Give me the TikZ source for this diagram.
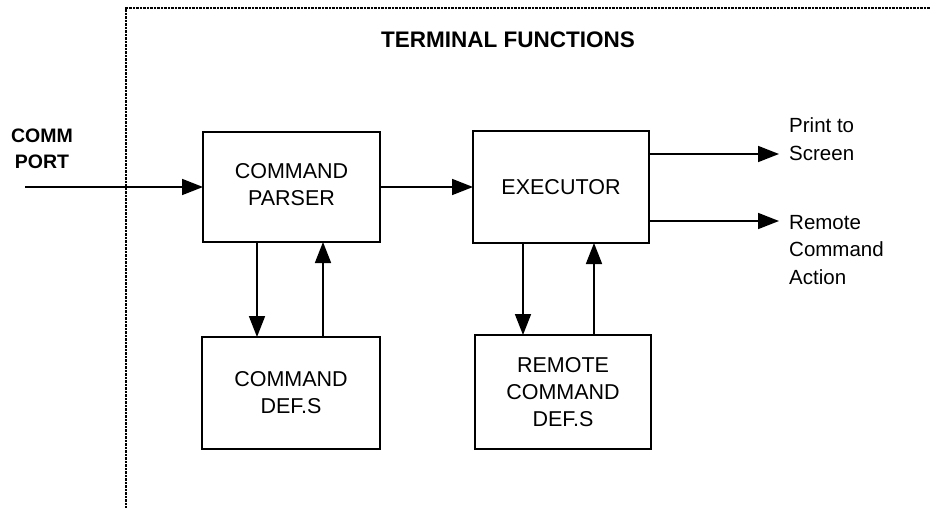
\documentclass[tikz,border=0pt]{standalone}
\usepackage{fontspec}
\setmainfont{Liberation Sans}
\usetikzlibrary{arrows.meta}
\begin{document}
\begin{tikzpicture}[x=1pt,y=-1pt,
  blk/.style={draw,line width=1.8pt,rectangle,inner sep=0pt,outer sep=0pt,align=center,
    font=\fontsize{21.5}{27}\selectfont},
  arr/.style={line width=1.7pt,-{Triangle[length=21pt,width=16pt]}},
  frame/.style={line width=1.2pt,dash pattern=on 1pt off 0.4pt},
  lbl/.style={inner sep=0pt,align=left,font=\fontsize{20.5}{27.5}\selectfont}]
\useasboundingbox (0,0) rectangle (930,508);
% frame
\coordinate (fb) at (126,508);
\coordinate (ftl) at (126,8);
\coordinate (ftr) at (930,8);
\draw[frame] (fb) -- (ftl) -- (ftr);
\node[font=\bfseries\fontsize{22.5}{26}\selectfont] (title) at (508,40) {TERMINAL FUNCTIONS};
% boxes
\node[blk,minimum width=177pt,minimum height=110pt] (parser) at (291.5,187)
  {\raisebox{4pt}{\begin{tabular}{@{}c@{}}COMMAND\\PARSER\end{tabular}}};
\node[blk,minimum width=176pt,minimum height=112pt] (exec) at (561,187) {EXECUTOR};
\node[blk,minimum width=178pt,minimum height=112pt] (defs) at (291,393) {COMMAND\\DEF.S};
\node[blk,minimum width=176pt,minimum height=114pt] (rdefs) at (563,392) {REMOTE\\COMMAND\\DEF.S};
% input
\node[font=\bfseries\fontsize{19.5}{26}\selectfont,align=center,inner sep=0pt] (comm) at (42,149) {COMM\\PORT};
\coordinate (cin) at (25,187);
\draw[arr] (cin) -- (parser.west);
\draw[arr] (parser.east) -- (exec.west);
% vertical connectors
\coordinate (x1) at (257,0);
\coordinate (x2) at (323,0);
\coordinate (x3) at (523,0);
\coordinate (x4) at (594,0);
\draw[arr] (parser.south -| x1) -- (defs.north -| x1);
\draw[arr] (defs.north -| x2) -- (parser.south -| x2);
\draw[arr] (exec.south -| x3) -- (rdefs.north -| x3);
\draw[arr] (rdefs.north -| x4) -- (exec.south -| x4);
% outputs
\coordinate (o1) at (779,154);
\coordinate (o2) at (779,221);
\draw[arr] (exec.east |- o1) -- (o1);
\draw[arr] (exec.east |- o2) -- (o2);
\node[lbl,anchor=west] (prt) at (789,139) {Print to\\Screen};
\node[lbl,anchor=west] (rca) at (789,250) {Remote\\Command\\Action};
\end{tikzpicture}
\end{document}
